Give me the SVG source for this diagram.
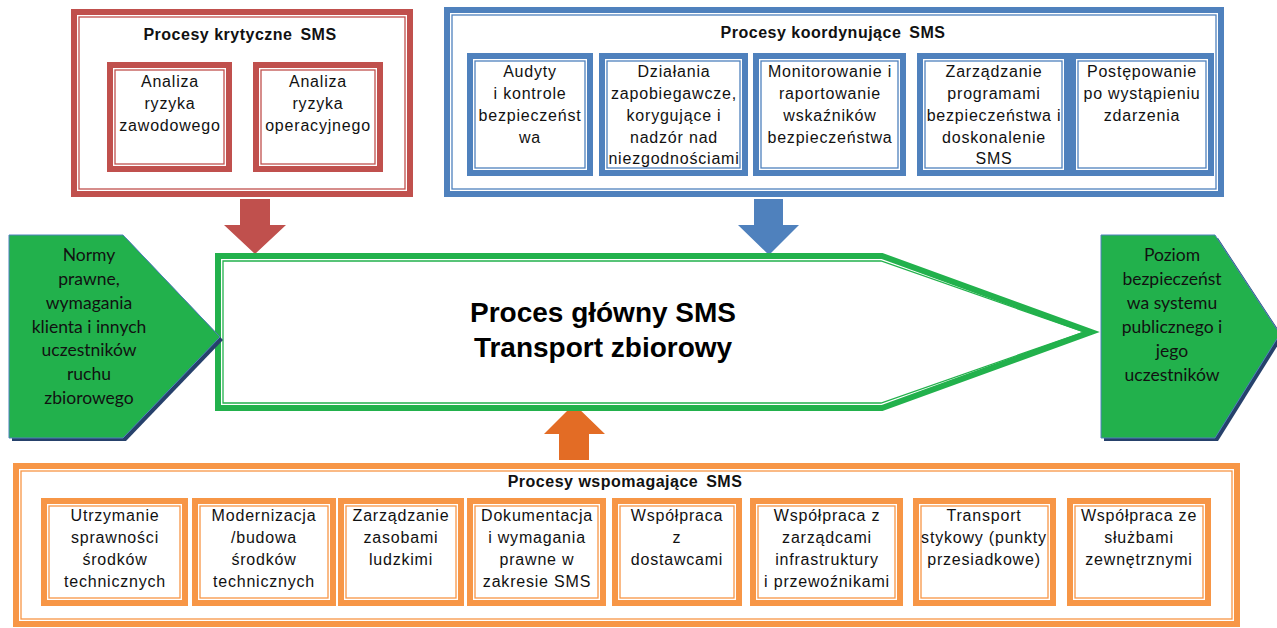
<svg xmlns="http://www.w3.org/2000/svg" width="1277" height="628" viewBox="0 0 1277 628">
<style>
  .bg{fill:#ffffff}
  .rT{fill:#ffffff;stroke:#C0504D;stroke-width:6}
  .rN{fill:none;stroke:#C0504D;stroke-width:1.3}
  .bT{fill:#ffffff;stroke:#4F81BD;stroke-width:6}
  .bN{fill:none;stroke:#4F81BD;stroke-width:1.3}
  .oT{fill:#ffffff;stroke:#F79646;stroke-width:6}
  .oN{fill:none;stroke:#F79646;stroke-width:1.3}
  .gT{fill:#ffffff;stroke:#22B14C;stroke-width:6;stroke-linejoin:miter;stroke-miterlimit:10}
  .gN{fill:none;stroke:#22B14C;stroke-width:1.3;stroke-linejoin:miter;stroke-miterlimit:10}
  .pent{fill:#22B14C;stroke:#4F81BD;stroke-width:1}
  .shad{fill:#26416B}
  .t{font-family:"Liberation Sans",Arial,sans-serif;font-size:16px;fill:#111;text-anchor:middle;letter-spacing:0.8px}
  .h{font-family:"Liberation Sans",Arial,sans-serif;font-size:16px;font-weight:bold;fill:#111;text-anchor:middle;letter-spacing:0.5px}
  .m{font-family:"Liberation Sans",Arial,sans-serif;font-size:28px;font-weight:bold;fill:#000;text-anchor:middle}
  .c{font-family:Lato,"Open Sans",sans-serif;font-size:17.5px;fill:#111;text-anchor:middle}
</style>
<rect class="bg" x="0" y="0" width="1277" height="628"/>

<g id="connectors">
  <polygon fill="#C0504D" points="240,199 270,199 270,225 286,225 255,254 224,225 240,225"/>
  <polygon fill="#4F81BD" points="754,199 783,199 783,225 799,225 769,255 738,225 754,225"/>
  <polygon fill="#E36C25" points="559,460 589,460 589,434 605,434 574,404 544,434 559,434"/>
</g>

<g id="krytyczne">
  <rect class="rT" x="74" y="12" width="336" height="182"/>
  <rect class="rN" x="79" y="17" width="326" height="172"/>
  <text class="h" x="240" y="40">Procesy krytyczne <tspan dx="3">SMS</tspan></text>
</g>
<g id="k1">
  <rect class="rT" x="110" y="65" width="119" height="104"/>
  <rect class="rN" x="115" y="70" width="109" height="94"/>
  <text class="t" x="170" y="87">Analiza</text>
  <text class="t" x="170" y="109">ryzyka</text>
  <text class="t" x="170" y="131">zawodowego</text>
</g>
<g id="k2">
  <rect class="rT" x="256" y="65" width="124" height="104"/>
  <rect class="rN" x="261" y="70" width="114" height="94"/>
  <text class="t" x="318" y="87">Analiza</text>
  <text class="t" x="318" y="109">ryzyka</text>
  <text class="t" x="318" y="131">operacyjnego</text>
</g>

<g id="koordynujace">
  <rect class="bT" x="447" y="10" width="774" height="184"/>
  <rect class="bN" x="452" y="15" width="764" height="174"/>
  <text class="h" x="833" y="38">Procesy koordynujące <tspan dx="3">SMS</tspan></text>
</g>
<g id="b1">
  <rect class="bT" x="470" y="56" width="120" height="117"/>
  <rect class="bN" x="475" y="61" width="110" height="107"/>
  <text class="t" x="530" y="77">Audyty</text>
  <text class="t" x="530" y="99">i kontrole</text>
  <text class="t" x="530" y="121">bezpieczeńst</text>
  <text class="t" x="530" y="143">wa</text>
</g>
<g id="b2">
  <rect class="bT" x="602" y="56" width="143" height="117"/>
  <rect class="bN" x="607" y="61" width="133" height="107"/>
  <text class="t" x="674" y="77">Działania</text>
  <text class="t" x="674" y="99">zapobiegawcze,</text>
  <text class="t" x="674" y="121">korygujące i</text>
  <text class="t" x="674" y="143">nadzór nad</text>
  <text class="t" x="674" y="164">niezgodnościami</text>
</g>
<g id="b3">
  <rect class="bT" x="756" y="56" width="147" height="117"/>
  <rect class="bN" x="761" y="61" width="137" height="107"/>
  <text class="t" x="830" y="77">Monitorowanie i</text>
  <text class="t" x="830" y="99">raportowanie</text>
  <text class="t" x="830" y="121">wskaźników</text>
  <text class="t" x="830" y="143">bezpieczeństwa</text>
</g>
<g id="b4">
  <rect class="bT" x="920" y="56" width="147" height="117"/>
  <rect class="bN" x="925" y="61" width="137" height="107"/>
  <text class="t" x="994" y="77">Zarządzanie</text>
  <text class="t" x="994" y="99">programami</text>
  <text class="t" x="994" y="121">bezpieczeństwa i</text>
  <text class="t" x="994" y="143">doskonalenie</text>
  <text class="t" x="994" y="164">SMS</text>
</g>
<g id="b5">
  <rect class="bT" x="1073" y="56" width="138" height="117"/>
  <rect class="bN" x="1078" y="61" width="128" height="107"/>
  <text class="t" x="1142" y="77">Postępowanie</text>
  <text class="t" x="1142" y="99">po wystąpieniu</text>
  <text class="t" x="1142" y="121">zdarzenia</text>
</g>

<g id="glowny">
  <polygon class="gT" points="218,256 882,256 1091,332 882,408 218,408"/>
  <polygon class="gN" points="223,261 881,261 1084,332 881,403 223,403"/>
  <text class="m" x="603" y="322">Proces główny SMS</text>
  <text class="m" x="603" y="357">Transport zbiorowy</text>
</g>

<g id="normy">
  <polygon class="shad" points="12,238 126,238 223,340 126,441 12,441"/>
  <polygon class="pent" points="9,235 123,235 220,337 123,438 9,438"/>
  <text class="c" x="89" y="261">Normy</text>
  <text class="c" x="89" y="285">prawne,</text>
  <text class="c" x="89" y="309">wymagania</text>
  <text class="c" x="89" y="333">klienta i innych</text>
  <text class="c" x="89" y="356">uczestników</text>
  <text class="c" x="89" y="380">ruchu</text>
  <text class="c" x="89" y="404">zbiorowego</text>
</g>

<g id="poziom">
  <polygon class="shad" points="1104,238 1218,238 1283,337 1218,441 1104,441"/>
  <polygon class="pent" points="1101,235 1215,235 1280,334 1215,438 1101,438"/>
  <text class="c" x="1172" y="261">Poziom</text>
  <text class="c" x="1172" y="285">bezpieczeńst</text>
  <text class="c" x="1172" y="309">wa systemu</text>
  <text class="c" x="1172" y="333">publicznego i</text>
  <text class="c" x="1172" y="357">jego</text>
  <text class="c" x="1172" y="381">uczestników</text>
</g>

<g id="wspomagajace">
  <rect class="oT" x="16" y="466" width="1221" height="158"/>
  <rect class="oN" x="21" y="471" width="1211" height="148"/>
  <text class="h" x="625" y="487">Procesy wspomagające <tspan dx="3">SMS</tspan></text>
</g>
<g id="o1">
  <rect class="oT" x="44" y="501" width="141" height="102"/>
  <rect class="oN" x="49" y="506" width="131" height="92"/>
  <text class="t" x="115" y="521">Utrzymanie</text>
  <text class="t" x="115" y="543">sprawności</text>
  <text class="t" x="115" y="565">środków</text>
  <text class="t" x="115" y="587">technicznych</text>
</g>
<g id="o2">
  <rect class="oT" x="195" y="501" width="138" height="102"/>
  <rect class="oN" x="200" y="506" width="128" height="92"/>
  <text class="t" x="264" y="521">Modernizacja</text>
  <text class="t" x="264" y="543">/budowa</text>
  <text class="t" x="264" y="565">środków</text>
  <text class="t" x="264" y="587">technicznych</text>
</g>
<g id="o3">
  <rect class="oT" x="341" y="501" width="120" height="102"/>
  <rect class="oN" x="346" y="506" width="110" height="92"/>
  <text class="t" x="401" y="521">Zarządzanie</text>
  <text class="t" x="401" y="543">zasobami</text>
  <text class="t" x="401" y="565">ludzkimi</text>
</g>
<g id="o4">
  <rect class="oT" x="470" y="501" width="133" height="102"/>
  <rect class="oN" x="475" y="506" width="123" height="92"/>
  <text class="t" x="537" y="521">Dokumentacja</text>
  <text class="t" x="537" y="543">i wymagania</text>
  <text class="t" x="537" y="565">prawne w</text>
  <text class="t" x="537" y="587">zakresie SMS</text>
</g>
<g id="o5">
  <rect class="oT" x="615" y="501" width="124" height="102"/>
  <rect class="oN" x="620" y="506" width="114" height="92"/>
  <text class="t" x="677" y="521">Współpraca</text>
  <text class="t" x="677" y="543">z</text>
  <text class="t" x="677" y="565">dostawcami</text>
</g>
<g id="o6">
  <rect class="oT" x="753" y="501" width="147" height="102"/>
  <rect class="oN" x="758" y="506" width="137" height="92"/>
  <text class="t" x="827" y="521">Współpraca z</text>
  <text class="t" x="827" y="543">zarządcami</text>
  <text class="t" x="827" y="565">infrastruktury</text>
  <text class="t" x="827" y="587">i przewoźnikami</text>
</g>
<g id="o7">
  <rect class="oT" x="916" y="501" width="137" height="102"/>
  <rect class="oN" x="921" y="506" width="127" height="92"/>
  <text class="t" x="984" y="521">Transport</text>
  <text class="t" x="984" y="543">stykowy (punkty</text>
  <text class="t" x="984" y="565">przesiadkowe)</text>
</g>
<g id="o8">
  <rect class="oT" x="1070" y="501" width="138" height="102"/>
  <rect class="oN" x="1075" y="506" width="128" height="92"/>
  <text class="t" x="1139" y="521">Współpraca ze</text>
  <text class="t" x="1139" y="543">służbami</text>
  <text class="t" x="1139" y="565">zewnętrznymi</text>
</g>
</svg>
